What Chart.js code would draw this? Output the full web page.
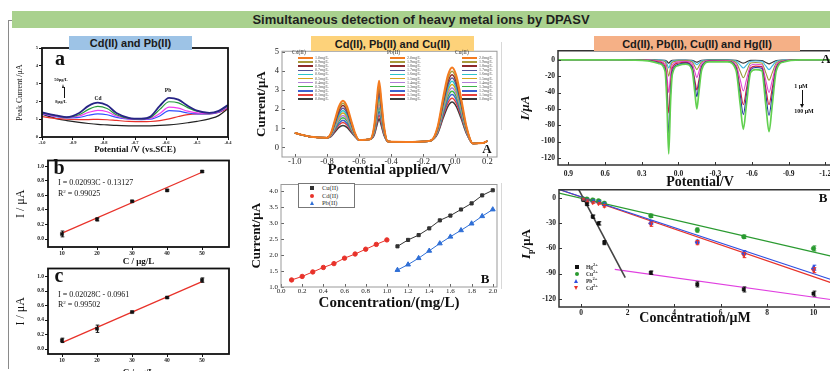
<!DOCTYPE html>
<html><head><meta charset="utf-8">
<script src="https://cdn.jsdelivr.net/npm/chart.js@4.4.1/dist/chart.umd.min.js"></script>
<style>
html,body{margin:0;padding:0;background:#fff;overflow:hidden;}
#root{position:relative;width:830px;height:371px;overflow:hidden;background:#fff;font-family:'Liberation Serif','Times New Roman',serif;color:#111;}
#root canvas{position:absolute;}
.t{position:absolute;white-space:nowrap;line-height:1;transform:translate(-50%,-50%);}
.l{position:absolute;white-space:nowrap;line-height:1;transform:translate(0,-50%);}
.hdr{position:absolute;display:flex;align-items:center;justify-content:center;font-family:'Liberation Sans',Arial,sans-serif;font-weight:bold;color:#1a1a1a;white-space:nowrap;}
.ln{position:absolute;}
</style></head>
<body><div id="root"></div>
<script>
// ================= DATA =================
// Panel a: DPASV curves (Cd / Pb), potential in V
const aPotential = [-1.0,-0.95,-0.92,-0.88,-0.85,-0.82,-0.79,-0.76,-0.72,-0.68,-0.65,-0.62,-0.59,-0.56,-0.53,-0.5,-0.46,-0.43,-0.4];
const aNavy    = [1.38,1.2,1.12,1.35,1.75,1.93,1.78,1.35,1.08,1.03,1.15,1.75,2.2,2.1,1.75,1.48,1.36,1.47,1.8];
const aGreen   = [1.36,1.18,1.1,1.25,1.55,1.72,1.6,1.25,1.05,1.02,1.1,1.55,1.98,1.92,1.65,1.45,1.35,1.45,1.75];
const aMagenta = [1.32,1.15,1.1,1.18,1.38,1.5,1.42,1.18,1.02,1.0,1.04,1.32,1.68,1.62,1.45,1.36,1.32,1.42,1.7];
const aBlue    = [1.3,1.13,1.08,1.1,1.22,1.3,1.25,1.1,1.0,0.98,1.0,1.18,1.48,1.45,1.35,1.3,1.3,1.4,1.68];
const aRed     = [1.15,1.03,1.0,0.98,0.98,0.99,0.97,0.93,0.88,0.86,0.87,0.92,1.02,1.15,1.26,1.3,1.3,1.38,1.62];
const aBlack   = [1.28,1.02,0.92,0.82,0.76,0.71,0.68,0.65,0.63,0.62,0.63,0.65,0.68,0.73,0.8,0.88,1.02,1.2,1.6];
const aXTicks = [-1.0,-0.9,-0.8,-0.7,-0.6,-0.5,-0.4];
const aYTicks = [0,1,2,3,4,5];

// Panels b, c: calibration (C in ug/L, I in uA)
const bcConc = [10,20,30,40,50];
const bCurrent = [0.07,0.27,0.52,0.67,0.93];
const bError   = [0.04,0.02,0.01,0.01,0.01];
const cCurrent = [0.12,0.28,0.51,0.71,0.95];
const cError   = [0.03,0.05,0.01,0.01,0.03];
const fitConc  = [10,50];
const bFit = [0.08,0.92];
const cFit = [0.09,0.93];
const bcXTicks = [10,20,30,40,50];
const bcYTicks = [0,0.2,0.4,0.6,0.8,1.0];

// Middle A: 11 DPASV curves, potential applied (V)
const mPotential = [-1.0,-0.9,-0.8,-0.775,-0.75,-0.725,-0.70,-0.675,-0.65,-0.625,-0.6,-0.53,-0.505,-0.49,-0.475,-0.46,-0.445,-0.42,-0.3,-0.2,-0.15,-0.11,-0.075,-0.045,-0.02,0.005,0.035,0.07,0.11,0.17,0.2];
const m1  = [0.75,0.55,0.5,0.75,1.45,2.15,2.45,2.15,1.45,0.75,0.38,0.42,1.15,2.4,3.5,2.4,1.15,0.3,0.28,0.3,0.36,1.08,2.64,3.81,4.2,3.81,2.64,1.08,0.2,0.22,0.33];
const m2  = [0.75,0.55,0.5,0.73,1.39,2.04,2.32,2.04,1.39,0.73,0.38,0.42,1.1,2.27,3.3,2.27,1.1,0.3,0.28,0.3,0.36,1.04,2.52,3.63,4.0,3.63,2.52,1.04,0.2,0.22,0.33];
const m3  = [0.75,0.55,0.5,0.71,1.33,1.94,2.2,1.94,1.33,0.71,0.38,0.42,1.05,2.14,3.1,2.14,1.05,0.3,0.28,0.3,0.36,1.0,2.41,3.47,3.82,3.47,2.41,1.0,0.2,0.22,0.33];
const m4  = [0.75,0.55,0.5,0.69,1.25,1.81,2.05,1.81,1.25,0.69,0.38,0.42,1.0,2.01,2.9,2.01,1.0,0.3,0.28,0.3,0.36,0.97,2.31,3.32,3.65,3.32,2.31,0.97,0.2,0.22,0.33];
const m5  = [0.75,0.55,0.5,0.67,1.19,1.7,1.92,1.7,1.19,0.67,0.38,0.42,0.95,1.88,2.7,1.88,0.95,0.3,0.28,0.3,0.36,0.93,2.2,3.15,3.47,3.15,2.2,0.93,0.2,0.22,0.33];
const m6  = [0.75,0.55,0.5,0.65,1.13,1.6,1.8,1.6,1.13,0.65,0.38,0.42,0.9,1.75,2.5,1.75,0.9,0.3,0.28,0.3,0.36,0.9,2.1,3.0,3.3,3.0,2.1,0.9,0.2,0.22,0.33];
const m7  = [0.75,0.55,0.5,0.63,1.06,1.49,1.67,1.49,1.06,0.63,0.38,0.42,0.85,1.62,2.3,1.62,0.85,0.3,0.28,0.3,0.36,0.86,1.99,2.84,3.12,2.84,1.99,0.86,0.2,0.22,0.33];
const m8  = [0.75,0.55,0.5,0.62,1.0,1.39,1.55,1.39,1.0,0.62,0.38,0.42,0.8,1.49,2.1,1.49,0.8,0.3,0.28,0.3,0.36,0.83,1.89,2.69,2.95,2.69,1.89,0.83,0.2,0.22,0.33];
const m9  = [0.75,0.55,0.5,0.6,0.94,1.27,1.42,1.27,0.94,0.6,0.38,0.42,0.75,1.36,1.9,1.36,0.75,0.3,0.28,0.3,0.36,0.79,1.78,2.52,2.77,2.52,1.78,0.79,0.2,0.22,0.33];
const m10 = [0.75,0.55,0.5,0.58,0.88,1.17,1.3,1.17,0.88,0.58,0.38,0.42,0.7,1.23,1.7,1.23,0.7,0.3,0.28,0.3,0.36,0.76,1.67,2.35,2.58,2.35,1.67,0.76,0.2,0.22,0.33];
const m11 = [0.75,0.55,0.5,0.56,0.8,1.05,1.15,1.05,0.8,0.56,0.38,0.42,0.65,1.1,1.5,1.1,0.65,0.3,0.28,0.3,0.36,0.72,1.55,2.17,2.38,2.17,1.55,0.72,0.2,0.22,0.33];
const mCdLabels = ['1.0mg/L','0.9mg/L','0.8mg/L','0.7mg/L','0.6mg/L','0.5mg/L','0.4mg/L','0.3mg/L','0.2mg/L','0.1mg/L','0.0mg/L'];
const mPbLabels = ['2.0mg/L','1.9mg/L','1.8mg/L','1.7mg/L','1.6mg/L','1.5mg/L','1.4mg/L','1.3mg/L','1.2mg/L','1.1mg/L','1.0mg/L'];
const mCuLabels = ['2.0mg/L','1.9mg/L','1.8mg/L','1.7mg/L','1.6mg/L','1.5mg/L','1.4mg/L','1.3mg/L','1.2mg/L','1.1mg/L','1.0mg/L'];
const mXTicks = [-1.0,-0.8,-0.6,-0.4,-0.2,0.0,0.2];
const mYTicks = [0,1,2,3,4,5];

// Middle B: calibration (mg/L vs uA)
const mbCdConc = [0.1,0.2,0.3,0.4,0.5,0.6,0.7,0.8,0.9,1.0];
const mbCd     = [1.22,1.33,1.47,1.61,1.73,1.9,2.03,2.18,2.33,2.47];
const mbHiConc = [1.1,1.2,1.3,1.4,1.5,1.6,1.7,1.8,1.9,2.0];
const mbCu     = [2.27,2.47,2.62,2.83,3.08,3.23,3.42,3.61,3.86,4.02];
const mbPb     = [1.53,1.70,1.90,2.13,2.36,2.57,2.77,2.98,3.21,3.42];
const mbXTicks = [0,0.2,0.4,0.6,0.8,1.0,1.2,1.4,1.6,1.8,2.0];
const mbYTicks = [1.0,1.5,2.0,2.5,3.0,3.5,4.0];

// Right A: 7 curves (stripping current, uA) vs potential (V)
const rPotential = [1.0,0.5,0.25,0.16,0.11,0.095,0.08,0.065,0.05,0.0,-0.06,-0.11,-0.135,-0.15,-0.165,-0.19,-0.25,-0.4,-0.47,-0.505,-0.53,-0.555,-0.59,-0.63,-0.68,-0.715,-0.74,-0.765,-0.8,-0.86,-1.0,-1.5];
const r1 = [0,0,0,-0.2,-0.5,-1.8,-4,-1.8,-0.6,-0.2,-0.2,-0.6,-2.1,-3,-2.1,-0.6,-0.1,-0.1,-0.6,-2.6,-4,-2.6,-0.7,-0.6,-0.8,-3.3,-5,-3.3,-0.8,-0.2,0,0];
const r2 = [0,0,-0.1,-0.4,-1.2,-4.5,-10,-4.5,-1.5,-0.6,-0.5,-1.2,-4.2,-6,-4.2,-1.2,-0.2,-0.3,-1.5,-6.5,-10,-6.5,-1.8,-1.5,-1.8,-7.8,-12,-7.8,-1.8,-0.4,0,0];
const r3 = [0,0,-0.2,-0.8,-2.4,-9,-20,-9,-3,-1.2,-1,-2.4,-8.4,-12,-8.4,-2.4,-0.5,-0.7,-3.3,-14.3,-22,-14.3,-4,-3.3,-3.8,-16.3,-25,-16.3,-3.8,-0.8,0,0];
const r4 = [0,0,-0.4,-1.6,-4.8,-18,-40,-18,-6,-2.4,-1.9,-4.4,-15.4,-22,-15.4,-4.4,-0.9,-1.1,-5.7,-24.7,-38,-24.7,-6.8,-5.5,-6,-26,-40,-26,-6,-1.2,0,0];
const r5 = [0,0,-0.6,-2.6,-7.8,-29,-65,-29,-9.8,-3.9,-3.1,-7.4,-25.9,-37,-25.9,-7.4,-1.5,-1.7,-8.3,-35.8,-55,-35.8,-9.9,-7.7,-8.3,-35.8,-55,-35.8,-8.3,-1.7,0,0];
const r6 = [0,0,-0.9,-3.6,-10.8,-40.5,-90,-40.5,-13.5,-5.4,-4,-9,-31.5,-45,-31.5,-9,-1.8,-2,-10,-43.6,-67,-43.6,-12.1,-9.4,-10.2,-44.2,-68,-44.2,-10.2,-2,0,0];
const r7 = [0,0,-1.2,-4.6,-13.8,-51.8,-115,-51.8,-17.3,-6.9,-5.3,-12,-42,-60,-42,-12,-2.4,-2.6,-12.8,-55.3,-85,-55.3,-15.3,-12.1,-13.2,-57.2,-88,-57.2,-13.2,-2.6,0,0];
const raXTicks = [0.9,0.6,0.3,0.0,-0.3,-0.6,-0.9,-1.2];
const raYTicks = [0,-20,-40,-60,-80,-100,-120];

// Right B: peak current vs concentration (uM)
const rbConc = [0.1,0.25,0.5,0.75,1,3,5,7,10];
const rbHg = [-2,-7,-22,-30,-53,-89,-103,-109,-114];
const rbCu = [-1,-1,-2,-3,-6,-21,-38,-46,-60];
const rbPb = [-1,-2,-3,-4,-7,-29,-52,-65,-83];
const rbCd = [-1,-3,-5,-6,-9,-31,-53,-68,-86];
const rbHgErr = [1,1.5,2,2,2.5,2,3,3,3];
const rbCuErr = [1,1,1,1,1.5,2,2.5,2,3];
const rbPbErr = [1,1,1,1,1.5,2,2,2.5,3];
const rbCdErr = [1,1,1,1,1.5,2.5,2.5,3,3];
const rbFitHgX = [-0.15,1.9],  rbFitHgY = [13,-95];
const rbFitHg2X = [1.45,11.5], rbFitHg2Y = [-85,-124];
const rbFitCuX = [-1,11.5],    rbFitCuY = [6.5,-74];
const rbFitPbX = [-1,11.5],    rbFitPbY = [11,-104];
const rbFitCdX = [-1,11.5],    rbFitCdY = [11,-108];
const rbXTicks = [0,2,4,6,8,10];
const rbYTicks = [0,-30,-60,-90,-120];

// ================= RENDER =================
const SERIF = "'Liberation Serif','Times New Roman',serif";
Chart.defaults.font.family = SERIF;
const root = document.getElementById('root');

const framePlugin = {
  id:'frame',
  afterDatasetsDraw(chart, args, o){
    const ctx = chart.ctx, a = chart.chartArea, xs = chart.scales.x, ys = chart.scales.y;
    ctx.save();
    if (o.tickLen){
      ctx.strokeStyle = o.tickColor || o.color; ctx.lineWidth = 1; ctx.beginPath();
      xs.ticks.forEach(t=>{const p=Math.round(xs.getPixelForValue(t.value))+0.5; ctx.moveTo(p,a.bottom); ctx.lineTo(p,a.bottom-o.tickLen);});
      ys.ticks.forEach(t=>{const p=Math.round(ys.getPixelForValue(t.value))+0.5; ctx.moveTo(a.left,p); ctx.lineTo(a.left+o.tickLen,p);});
      ctx.stroke();
    }
    if (o.color){ ctx.strokeStyle=o.color; ctx.lineWidth=o.width||1; ctx.strokeRect(a.left,a.top,a.right-a.left,a.bottom-a.top); }
    ctx.restore();
  }
};
const errPlugin = {
  id:'errbars',
  afterDatasetsDraw(chart){
    const ctx = chart.ctx, ys = chart.scales.y;
    chart.data.datasets.forEach((ds,i)=>{
      if (!ds.errors) return;
      const meta = chart.getDatasetMeta(i);
      ctx.save(); ctx.strokeStyle = ds.errColor || ds.borderColor; ctx.lineWidth = 1; ctx.beginPath();
      meta.data.forEach((pt,j)=>{
        const e = ds.errors[j], v = ds.data[j].y;
        const y1 = ys.getPixelForValue(v+e), y2 = ys.getPixelForValue(v-e), x = Math.round(pt.x)+0.5;
        ctx.moveTo(x,y1); ctx.lineTo(x,y2);
        ctx.moveTo(x-1.8,y1); ctx.lineTo(x+1.8,y1);
        ctx.moveTo(x-1.8,y2); ctx.lineTo(x+1.8,y2);
      });
      ctx.stroke(); ctx.restore();
    });
  }
};
Chart.register(framePlugin, errPlugin);

function scaleCfg(o){
  return {
    type:'linear', min:o.min, max:o.max, reverse:!!o.reverse,
    border:{display:false},
    grid: o.outward ? {display:true, drawOnChartArea:false, drawTicks:true, tickLength:3, color:'#111', lineWidth:1} : {display:false, drawTicks:false, tickLength:0},
    ticks:{autoSkip:false, maxRotation:0, minRotation:0, padding:(o.pad!==undefined?o.pad:1), color:'#1a1a1a',
      font:{family:SERIF, size:o.size, weight:o.weight||'normal', lineHeight:1},
      callback:(v)=>Number(v).toFixed(o.dec)},
    afterBuildTicks:(sc)=>{ sc.ticks = o.ticks.map(v=>({value:v})); },
    title: o.title ? {display:true, text:o.title, color:'#111', padding:0,
      font:{family:SERIF, size:o.tsize, weight:o.tweight||'bold', style:o.tstyle||'normal', lineHeight:1}} : {display:false}
  };
}
function makeChart(box, area, xo, yo, datasets, frame){
  const c = document.createElement('canvas');
  c.width = box.w; c.height = box.h;
  c.style.left = box.x+'px'; c.style.top = box.y+'px'; c.style.width = box.w+'px'; c.style.height = box.h+'px';
  root.appendChild(c);
  const xs = scaleCfg(xo), ys = scaleCfg(yo);
  xs.position = 'bottom'; ys.position = 'left';
  xs.afterFit = s => { s.height = box.y+box.h-area.b; };
  ys.afterFit = s => { s.width = area.l-box.x; };
  return new Chart(c, {type:'scatter', data:{datasets},
    options:{responsive:false, animation:false, events:[],
      layout:{padding:{top:area.t-box.y, right:box.x+box.w-area.r, left:0, bottom:0}},
      plugins:{legend:{display:false}, tooltip:{enabled:false}, frame},
      scales:{x:xs, y:ys}}});
}
const zip = (xs, ys) => xs.map((x,i)=>({x, y:ys[i]}));
function curve(xs, ys, color, w){ return {data:zip(xs,ys), showLine:true, borderColor:color, backgroundColor:color, borderWidth:w, pointRadius:0, cubicInterpolationMode:'monotone', fill:false}; }
function seg(xs, ys, color, w){ return {data:zip(xs,ys), showLine:true, borderColor:color, backgroundColor:color, borderWidth:w, pointRadius:0, tension:0, fill:false}; }
function pts(xs, ys, color, style, r, errs, rot, line){ return {data:zip(xs,ys), showLine:!!line, borderColor:color, backgroundColor:color, borderWidth:line?1:0.5, pointStyle:style, pointRadius:r, pointRotation:rot||0, pointBorderColor:color, pointBackgroundColor:color, errors:errs, errColor:color, fill:false}; }

// ---- Panel a ----
makeChart({x:16,y:44,w:220,h:110},{l:42,t:48,r:228,b:137},
  {min:-1.0,max:-0.4,ticks:aXTicks,dec:1,size:4.5,weight:'bold',outward:true,title:'Potential /V (vs.SCE)',tsize:9},
  {min:0,max:5,ticks:aYTicks,dec:0,size:4.5,weight:'bold',outward:true,title:'Peak Current /μA',tsize:8,tweight:'normal'},
  [curve(aPotential,aNavy,'#272486',1.8), curve(aPotential,aGreen,'#279a3a',1.2), curve(aPotential,aMagenta,'#f23cf0',1.2),
   curve(aPotential,aBlue,'#3350ff',1.2), curve(aPotential,aRed,'#e8302a',1.2), curve(aPotential,aBlack,'#222',1.2)],
  {color:'#111',width:1.8});

// ---- Panel b ----
makeChart({x:15,y:156,w:222,h:110},{l:48,t:160,r:229,b:247},
  {min:6,max:57.7,ticks:bcXTicks,dec:0,size:5.5,weight:'bold',outward:true,title:'C / μg/L',tsize:9},
  {min:-0.11,max:1.082,ticks:bcYTicks,dec:1,size:5.5,weight:'bold',outward:true,title:'I / μA',tsize:12,tweight:'normal'},
  [pts(bcConc,bCurrent,'#111','rect',2.2,bError), seg(fitConc,bFit,'#e8322a',1.3)],
  {color:'#111',width:1.8});

// ---- Panel c ----
makeChart({x:15,y:264,w:222,h:113},{l:48,t:268,r:229,b:354},
  {min:6,max:57.7,ticks:bcXTicks,dec:0,size:5.5,weight:'bold',outward:true,title:'C / μg/L',tsize:9},
  {min:-0.068,max:1.11,ticks:bcYTicks,dec:1,size:5.5,weight:'bold',outward:true,title:'I / μA',tsize:12,tweight:'normal'},
  [pts(bcConc,cCurrent,'#111','rect',2.2,cError), seg(fitConc,cFit,'#e8322a',1.3)],
  {color:'#111',width:1.8});

// ---- Middle A ----
const mColors = ['#f47b20','#a89a3c','#8e2b2b','#55559a','#2ec4c9','#d6a51c','#b07fd6','#3cb44b','#3d62d0','#e8413c','#3a3a3a'];
const mSeries = [m1,m2,m3,m4,m5,m6,m7,m8,m9,m10,m11];
makeChart({x:255,y:44,w:252,h:134},{l:282,t:48,r:497,b:157},
  {min:-1.08,max:0.26,ticks:mXTicks,dec:1,size:8.5,pad:1,title:'Potential applied/V',tsize:15},
  {min:-0.51,max:5.05,ticks:mYTicks,dec:0,size:8.5,pad:3,title:'Current/μA',tsize:13},
  mSeries.map((s,i)=>curve(mPotential,s,mColors[i],i===0?2:1.5)),
  {color:'#999',width:1,tickLen:3,tickColor:'#666'});

// ---- Middle B ----
makeChart({x:250,y:178,w:257,h:133},{l:281,t:182,r:497,b:287},
  {min:0,max:2.04,ticks:mbXTicks,dec:1,size:7,pad:1,title:'Concentration/(mg/L)',tsize:15},
  {min:1.0,max:4.2,ticks:mbYTicks,dec:1,size:7,pad:3,title:'Current/μA',tsize:13},
  [pts(mbHiConc,mbCu,'#333','rect',2.2,null,0,true), pts(mbCdConc,mbCd,'#e8322a','circle',2.2,null,0,true),
   pts(mbHiConc,mbPb,'#2f6fd6','triangle',2.8,null,0,true)],
  {color:'#999',width:1,tickLen:3,tickColor:'#666'});

// ---- Right A ----
const rColors = ['#62d050','#2233a0','#cc2040','#e048d8','#9a9a3a','#3bb7e0','#333333'];
const rSeries = [r7,r6,r5,r4,r3,r2,r1];
makeChart({x:519,y:44,w:350,h:145},{l:558,t:48,r:862,b:165},
  {min:-1.5,max:0.985,reverse:true,ticks:raXTicks,dec:1,size:7.5,weight:'bold',pad:5},
  {min:-128.7,max:11.1,ticks:raYTicks,dec:0,size:7.5,weight:'bold',pad:3,title:'I/μA',tsize:13,tstyle:'italic'},
  rSeries.map((s,i)=>curve(rPotential,s,rColors[i],i===0?1.7:1.1)),
  {color:'#333',width:1.5,tickLen:3});

// ---- Right B ----
makeChart({x:519,y:183,w:350,h:141},{l:559,t:187,r:860,b:307},
  {min:-0.95,max:12,ticks:rbXTicks,dec:0,size:7.5,weight:'bold',pad:2},
  {min:-130,max:10.2,ticks:rbYTicks,dec:0,size:7.5,weight:'bold',pad:3},
  [pts(rbConc,rbHg,'#111','rect',2.3,rbHgErr), pts(rbConc,rbCu,'#2a9a30','circle',2.3,rbCuErr),
   pts(rbConc,rbPb,'#2f4fe0','triangle',2.6,rbPbErr), pts(rbConc,rbCd,'#e8322a','triangle',2.6,rbCdErr,180),
   seg(rbFitHgX,rbFitHgY,'#444',1.6), seg(rbFitHg2X,rbFitHg2Y,'#e040e0',1.2), seg(rbFitCuX,rbFitCuY,'#2a9a30',1.2),
   seg(rbFitPbX,rbFitPbY,'#2f4fe0',1.2), seg(rbFitCdX,rbFitCdY,'#e8322a',1.2)],
  {color:'#333',width:1.5,tickLen:3});

// ================= OVERLAYS =================
function el(cls, html, css){ const d=document.createElement('div'); d.className=cls; d.innerHTML=html; Object.assign(d.style, css); root.appendChild(d); return d; }
function ct(html, x, y, size, extra){ return el('t', html, Object.assign({left:x+'px', top:y+'px', fontSize:size+'px'}, extra||{})); }
function lt(html, x, y, size, extra){ return el('l', html, Object.assign({left:x+'px', top:y+'px', fontSize:size+'px'}, extra||{})); }
function box(x,y,w,h,css){ return el('ln','',Object.assign({left:x+'px',top:y+'px',width:w+'px',height:h+'px'},css)); }

// bracket frame & faint separators
box(8,20,4,348,{borderLeft:'1px solid #8a8a8a',borderTop:'1px solid #8a8a8a'});
box(501,42,1,88,{background:'#d8d8d8'});
box(501,183,1,106,{background:'#d8d8d8'});

// banner & headers
el('hdr','Simultaneous detection of heavy metal ions by DPASV',{left:'12px',top:'11px',width:'818px',height:'17px',background:'#a9d18e',fontSize:'13px',color:'#1f1f1f'});
el('hdr','Cd(II) and Pb(II)',{left:'69px',top:'36px',width:'123px',height:'14px',background:'#9dc3e6',fontSize:'11px'});
el('hdr','Cd(II), Pb(II) and Cu(II)',{left:'311px',top:'36px',width:'163px',height:'15px',background:'#fdd27a',fontSize:'11px'});
el('hdr','Cd(II), Pb(II), Cu(II) and Hg(II)',{left:'594px',top:'36px',width:'206px',height:'15px',background:'#f5b086',fontSize:'11px'});

// panel a annotations
ct('a',60,58,20,{fontWeight:'bold'});
ct('50μg/L',61,80,4.5,{fontWeight:'bold'});
ct('8μg/L',61,101.5,4.5,{fontWeight:'bold'});
box(64,87,1,11,{background:'#111'});
box(62,84,0,0,{borderLeft:'1.5px solid transparent',borderRight:'1.5px solid transparent',borderBottom:'4px solid #111'});
ct('Cd',98,98.5,5.5,{fontWeight:'bold'});
ct('Pb',168,90.5,5.5,{fontWeight:'bold'});

// panel b / c annotations
ct('b',59,167,20,{fontWeight:'bold'});
lt('I = 0.02093C - 0.13127',58,183,8);
lt('R<sup style="font-size:5px;vertical-align:3px">2</sup> = 0.99025',58,193,8);
ct('c',59,275,20,{fontWeight:'bold'});
lt('I = 0.02028C - 0.0961',58,295,8);
lt('R<sup style="font-size:5px;vertical-align:3px">2</sup> = 0.99502',58,304,8);

// middle A legend
const legCols = [{head:'Cd(II)',hx:292,lx:298,tx:315,labels:mCdLabels},{head:'Pb(II)',hx:387,lx:390,tx:407,labels:mPbLabels},{head:'Cu(II)',hx:455,lx:462,tx:479,labels:mCuLabels}];
legCols.forEach(col=>{
  lt(col.head,col.hx,52.5,5.5,{color:'#333'});
  col.labels.forEach((lab,i)=>{
    const y = 58 + i*4.1;
    box(col.lx,y-0.8,15,1.6,{background:mColors[i]});
    lt(lab,col.tx,y,4,{color:'#555'});
  });
});
ct('A',487,148,13,{fontWeight:'bold'});

// middle B legend
box(298,183,57,25,{border:'1px solid #777',background:'#fff',boxSizing:'border-box'});
box(310,186,4,4,{background:'#333'});
box(310,193.5,4,4,{background:'#e8322a',borderRadius:'50%'});
box(309.5,201,0,0,{borderLeft:'2.5px solid transparent',borderRight:'2.5px solid transparent',borderBottom:'4.5px solid #2f6fd6'});
lt('Cu(II)',322,188,6.5,{color:'#333'});
lt('Cd(II)',322,195.5,6.5,{color:'#333'});
lt('Pb(II)',322,203,6.5,{color:'#333'});
ct('B',485,278,13,{fontWeight:'bold'});

// right A annotations
ct('A',826,58,13,{fontWeight:'bold'});
ct('1 μM',801,86,6,{fontWeight:'bold'});
box(801.5,90,1,15,{background:'#111'});
box(800,104,0,0,{borderLeft:'2px solid transparent',borderRight:'2px solid transparent',borderTop:'4px solid #111'});
ct('100 μM',804,111,6,{fontWeight:'bold'});
ct('Potential/V',700,182,14,{fontWeight:'bold'});

// right B annotations
ct('B',823,197,13,{fontWeight:'bold'});
ct('Concentration/μM',695,318,14,{fontWeight:'bold'});
ct('<i>I</i><sub style="font-size:8px">p</sub>/μA',527,244,13,{fontWeight:'bold',transform:'translate(-50%,-50%) rotate(-90deg)'});
const rbLeg = [['Hg<sup>2+</sup>','#111','sq'],['Cu<sup>2+</sup>','#2a9a30','ci'],['Pb<sup>2+</sup>','#2f4fe0','tu'],['Cd<sup>2+</sup>','#e8322a','td']];
rbLeg.forEach((r,i)=>{
  const y = 267 + i*7.1;
  if (r[2]==='sq') box(574.5,y-2,4,4,{background:r[1]});
  if (r[2]==='ci') box(574.5,y-2,4,4,{background:r[1],borderRadius:'50%'});
  if (r[2]==='tu') box(574,y-2.2,0,0,{borderLeft:'2.5px solid transparent',borderRight:'2.5px solid transparent',borderBottom:'4.5px solid '+r[1]});
  if (r[2]==='td') box(574,y-2.2,0,0,{borderLeft:'2.5px solid transparent',borderRight:'2.5px solid transparent',borderTop:'4.5px solid '+r[1]});
  lt(r[0],586,y,5.5,{fontWeight:'bold',color:'#333'});
});
</script></body></html>
